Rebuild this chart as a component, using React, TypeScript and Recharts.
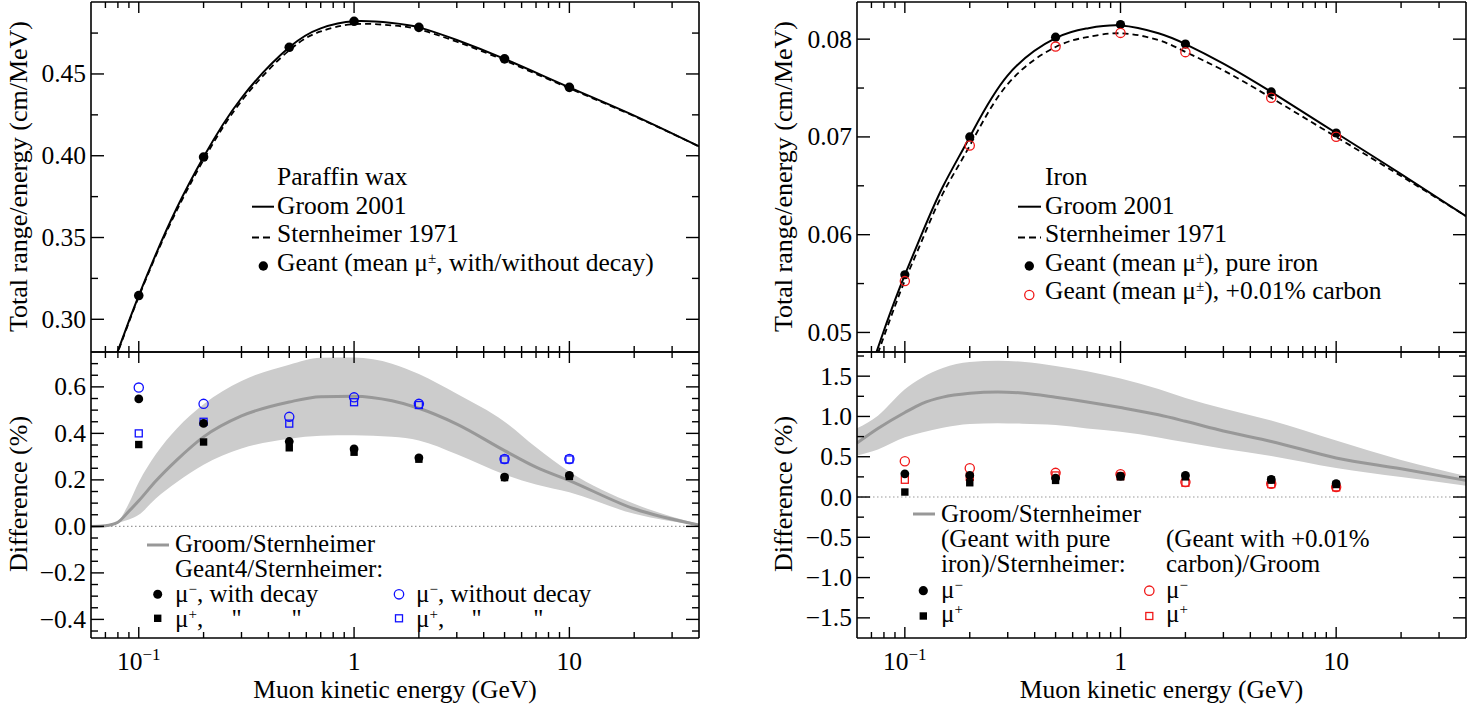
import React from 'react';
import { ComposedChart, Line, Area, Scatter, XAxis, YAxis, ReferenceLine } from 'recharts';

const FONT = '"Liberation Serif", "Times New Roman", serif';
const FS = 25.5;
const LFS = 25;

// ---------- shared x axis ----------
const xDomain: [number, number] = [0.06, 40];
const xTicks = [0.07, 0.08, 0.09, 0.1, 0.2, 0.3, 0.4, 0.5, 0.6, 0.7, 0.8, 0.9, 1, 2, 3, 4, 5, 6, 7, 8, 9, 10, 20, 30];
const xMajor = [0.1, 1, 10];
const xMajorLabels = ['10|−1', '1', '10'];

// ---------- points (Geant energies) ----------
const pointEnergies = [0.1, 0.2, 0.5, 1, 2, 5, 10];

// ---------- Paraffin wax, top ----------
const curveEnergies = [0.07, 0.08, 0.09, 0.1, 0.12, 0.15, 0.2, 0.3, 0.5, 0.7, 1, 1.5, 2, 3, 5, 10, 20, 40];
const paraffinGroom = [0.2592, 0.2807, 0.2989, 0.3145, 0.3397, 0.3679, 0.3992, 0.4353, 0.4663, 0.4779, 0.4822, 0.4812, 0.4785, 0.4708, 0.4592, 0.4418, 0.4245, 0.4057];
const paraffinStern = [0.2585, 0.28, 0.2982, 0.3138, 0.3388, 0.3665, 0.3975, 0.4335, 0.4645, 0.476, 0.4805, 0.4797, 0.4772, 0.4697, 0.4583, 0.4412, 0.4242, 0.4057];
const paraffinGeant = [0.3145, 0.3992, 0.4663, 0.4822, 0.4785, 0.4592, 0.4418];

// ---------- Iron, top ----------
const ironGroom = [0.0465, 0.0502, 0.0533, 0.0559, 0.0601, 0.0649, 0.07, 0.0763, 0.0801, 0.0811, 0.0814, 0.0806, 0.0795, 0.0775, 0.0746, 0.0704, 0.0662, 0.0619];
const ironStern = [0.0459, 0.0496, 0.0527, 0.0553, 0.0594, 0.0642, 0.0691, 0.0754, 0.0792, 0.0802, 0.0806, 0.0799, 0.0787, 0.0768, 0.074, 0.07, 0.066, 0.0619];
const ironGeantPure = [0.0559, 0.07, 0.0802, 0.0815, 0.0795, 0.0746, 0.0704];
const ironGeantCarbon = [0.05525, 0.06912, 0.07924, 0.08064, 0.07867, 0.07401, 0.07002];

// ---------- Paraffin wax, difference ----------
const paraffinDiffE = [0.06, 0.07, 0.075, 0.08, 0.09, 0.1, 0.12, 0.15, 0.2, 0.3, 0.5, 0.7, 1, 1.5, 2, 3, 5, 7, 10, 20, 40];
const paraffinDiffMid = [0.0, 0.003, 0.008, 0.018, 0.065, 0.11, 0.195, 0.285, 0.385, 0.475, 0.535, 0.558, 0.56, 0.54, 0.508, 0.44, 0.326, 0.255, 0.197, 0.076, 0.006];
const paraffinDiffHi = [0.0, 0.003, 0.008, 0.02, 0.1, 0.19, 0.31, 0.42, 0.525, 0.625, 0.695, 0.725, 0.726, 0.7, 0.655, 0.57, 0.45, 0.34, 0.235, 0.097, 0.01];
const paraffinDiffLo = [0.0, 0.002, 0.006, 0.015, 0.03, 0.05, 0.12, 0.19, 0.265, 0.335, 0.377, 0.39, 0.392, 0.385, 0.369, 0.31, 0.223, 0.18, 0.147, 0.054, 0.004];
const parMuMinusDecay = [0.548, 0.443, 0.365, 0.333, 0.295, 0.212, 0.219];
const parMuPlusDecay = [0.352, 0.363, 0.338, 0.319, 0.289, 0.21, 0.215];
const parMuMinusNoDecay = [0.597, 0.527, 0.471, 0.555, 0.527, 0.29, 0.29];
const parMuPlusNoDecay = [0.4, 0.45, 0.442, 0.534, 0.522, 0.288, 0.288];

// ---------- Iron, difference ----------
const ironDiffE = [0.06, 0.075, 0.1, 0.12, 0.15, 0.2, 0.27, 0.35, 0.5, 0.7, 1, 1.5, 2, 3, 5, 10, 20, 40];
const ironDiffMid = [0.67, 0.85, 1.049, 1.16, 1.24, 1.288, 1.305, 1.29, 1.238, 1.18, 1.11, 1.02, 0.94, 0.82, 0.69, 0.485, 0.35, 0.206];
const ironDiffHi = [0.852, 1.01, 1.337, 1.48, 1.6, 1.675, 1.69, 1.68, 1.626, 1.56, 1.47, 1.34, 1.23, 1.1, 0.95, 0.7, 0.46, 0.26];
const ironDiffLo = [0.515, 0.59, 0.741, 0.8, 0.86, 0.905, 0.917, 0.91, 0.893, 0.85, 0.81, 0.74, 0.68, 0.6, 0.51, 0.36, 0.247, 0.14];
const ironPureMuMinus = [0.288, 0.268, 0.235, 0.259, 0.268, 0.218, 0.165];
const ironPureMuPlus = [0.062, 0.177, 0.206, 0.25, 0.25, 0.21, 0.155];
const ironCarbonMuMinus = [0.444, 0.358, 0.3, 0.284, 0.185, 0.165, 0.123];
const ironCarbonMuPlus = [0.214, 0.25, 0.268, 0.26, 0.177, 0.16, 0.12];

// ---------- y axes ----------
const yTopLeftTicks = [0.3, 0.325, 0.35, 0.375, 0.4, 0.425, 0.45, 0.475];
const yTopLeftMajor = [0.3, 0.35, 0.4, 0.45];
const yTopLeftLabels = ['0.30', '0.35', '0.40', '0.45'];
const yBotLeftTicks = [-0.45, -0.4, -0.35, -0.3, -0.25, -0.2, -0.15, -0.1, -0.05, 0, 0.05, 0.1, 0.15, 0.2, 0.25, 0.3, 0.35, 0.4, 0.45, 0.5, 0.55, 0.6, 0.65, 0.7];
const yBotLeftMajor = [-0.4, -0.2, 0, 0.2, 0.4, 0.6];
const yBotLeftLabels = ['−0.4', '−0.2', '0.0', '0.2', '0.4', '0.6'];
const yTopRightTicks = [0.05, 0.055, 0.06, 0.065, 0.07, 0.075, 0.08];
const yTopRightMajor = [0.05, 0.06, 0.07, 0.08];
const yTopRightLabels = ['0.05', '0.06', '0.07', '0.08'];
const yBotRightTicks = [-1.5, -1.25, -1, -0.75, -0.5, -0.25, 0, 0.25, 0.5, 0.75, 1, 1.25, 1.5, 1.75];
const yBotRightMajor = [-1.5, -1, -0.5, 0, 0.5, 1, 1.5];
const yBotRightLabels = ['−1.5', '−1.0', '−0.5', '0.0', '0.5', '1.0', '1.5'];

// ---------- tables built from arrays ----------
const topTable = (a: number[], b: number[]) => curveEnergies.map((e, i) => ({ e, a: a[i], b: b[i] }));
const bandTable = (E: number[], mid: number[], lo: number[], hi: number[]) =>
  E.map((e, i) => ({ e, mid: mid[i], band: [lo[i], hi[i]] }));
const pts = (v: number[]) => pointEnergies.map((e, i) => ({ e, v: v[i] }));

const near = (a: number, b: number) => Math.abs(a - b) < 1e-6;
const idxOf = (arr: number[], v: number) => arr.findIndex((m) => near(m, v));

// ---------- tick renderers ----------
function xTick(side: 'top' | 'bottom', labels: boolean) {
  return (props: any) => {
    const { x, y, payload } = props;
    const v = Number(payload.value);
    const mi = idxOf(xMajor, v);
    const len = mi >= 0 ? 11 : 6;
    const d = side === 'bottom' ? -1 : 1;
    let lab: any = null;
    if (labels && side === 'bottom' && mi >= 0) {
      const [base, exp] = xMajorLabels[mi].split('|');
      lab = (
        <text x={x} y={y + 31.5} textAnchor="middle" fontFamily={FONT} fontSize={FS} fill="#000">
          {base}
          {exp ? (
            <tspan dy={-10} fontSize={17}>
              {exp}
            </tspan>
          ) : null}
        </text>
      );
    }
    return (
      <g>
        <line x1={x} x2={x} y1={y} y2={y + d * len} stroke="#000" strokeWidth={1.4} />
        {lab}
      </g>
    );
  };
}

function yTick(side: 'left' | 'right', majors: number[], labels: string[] | null) {
  return (props: any) => {
    const { x, y, payload } = props;
    const v = Number(payload.value);
    const mi = idxOf(majors, v);
    const len = mi >= 0 ? 13 : 7;
    const d = side === 'left' ? 1 : -1;
    return (
      <g>
        <line x1={x} x2={x + d * len} y1={y} y2={y} stroke="#000" strokeWidth={1.4} />
        {labels && side === 'left' && mi >= 0 ? (
          <text x={x - 5} y={y + 8.5} textAnchor="end" fontFamily={FONT} fontSize={FS} fill="#000">
            {labels[mi]}
          </text>
        ) : null}
      </g>
    );
  };
}

// ---------- marker shapes ----------
const filledCircle = (r: number) => (p: any) => <circle cx={p.cx} cy={p.cy} r={r} fill="#000" />;
const filledSquare = (s: number) => (p: any) => <rect x={p.cx - s / 2} y={p.cy - s / 2} width={s} height={s} fill="#000" />;
const openCircle = (r: number, c: string) => (p: any) => (
  <circle cx={p.cx} cy={p.cy} r={r} fill="none" stroke={c} strokeWidth={1.3} />
);
const openSquare = (s: number, c: string) => (p: any) => (
  <rect x={p.cx - s / 2} y={p.cy - s / 2} width={s} height={s} fill="none" stroke={c} strokeWidth={1.3} />
);

const BLUE = '#1010ff';
const RED = '#f01818';
const GRAY_LINE = '#989898';
const GRAY_BAND = '#cccccc';

type PanelProps = {
  left: number;
  top: number;
  width: number;
  height: number;
  margin: { top: number; right: number; bottom: number; left: number };
  yDomain: [number, number];
  yTicks: number[];
  yMajor: number[];
  yLabels: string[];
  xLabels: boolean;
  data: any[];
  children: any;
};

function Panel(p: PanelProps) {
  const axisLine = { stroke: '#000', strokeWidth: 1.6 };
  return (
    <div style={{ position: 'absolute', left: p.left, top: p.top, width: p.width, height: p.height }}>
      <ComposedChart width={p.width} height={p.height} margin={p.margin} data={p.data}>
        <XAxis
          xAxisId={0}
          dataKey="e"
          type="number"
          scale="log"
          domain={xDomain}
          allowDataOverflow
          ticks={xTicks}
          interval={0}
          height={1}
          tickSize={0}
          tickMargin={0}
          tickLine={false}
          axisLine={axisLine}
          tick={xTick('bottom', p.xLabels)}
          orientation="bottom"
        />
        <XAxis
          xAxisId="t"
          dataKey="e"
          type="number"
          scale="log"
          domain={xDomain}
          allowDataOverflow
          ticks={xTicks}
          interval={0}
          height={1}
          tickSize={0}
          tickMargin={0}
          tickLine={false}
          axisLine={axisLine}
          tick={xTick('top', false)}
          orientation="top"
        />
        <YAxis
          yAxisId={0}
          type="number"
          domain={p.yDomain}
          allowDataOverflow
          ticks={p.yTicks}
          interval={0}
          width={1}
          tickSize={0}
          tickMargin={0}
          tickLine={false}
          axisLine={axisLine}
          tick={yTick('left', p.yMajor, p.yLabels)}
          orientation="left"
        />
        <YAxis
          yAxisId="r"
          type="number"
          domain={p.yDomain}
          allowDataOverflow
          ticks={p.yTicks}
          interval={0}
          width={1}
          tickSize={0}
          tickMargin={0}
          tickLine={false}
          axisLine={axisLine}
          tick={yTick('right', p.yMajor, null)}
          orientation="right"
        />
        {p.children}
      </ComposedChart>
    </div>
  );
}

const T = (props: any) => <text fontFamily={FONT} fontSize={FS} fill="#000" {...props} />;
const SupText = ({ x, y, pre, sup, post, fs }: any) => (
  <text x={x} y={y} fontFamily={FONT} fontSize={fs || FS} fill="#000">
    {pre}
    <tspan dy={-8} fontSize={15}>
      {sup}
    </tspan>
    {post ? <tspan dy={8}>{post}</tspan> : null}
  </text>
);

function Overlay() {
  return (
    <svg width={1483} height={706} style={{ position: 'absolute', left: 0, top: 0, pointerEvents: 'none' }}>
      {/* axis titles */}
      <T x={0} y={0} textAnchor="middle" fontSize={26} transform="translate(27,176.5) rotate(-90)">
        Total range/energy (cm/MeV)
      </T>
      <T x={0} y={0} textAnchor="middle" fontSize={26} transform="translate(792,176.5) rotate(-90)">
        Total range/energy (cm/MeV)
      </T>
      <T x={0} y={0} textAnchor="middle" fontSize={26} transform="translate(27,494) rotate(-90)">
        Difference (%)
      </T>
      <T x={0} y={0} textAnchor="middle" fontSize={26} transform="translate(792,494) rotate(-90)">
        Difference (%)
      </T>
      <T x={395} y={698} textAnchor="middle" fontSize={25.5}>
        Muon kinetic energy (GeV)
      </T>
      <T x={1161.5} y={698} textAnchor="middle" fontSize={25.5}>
        Muon kinetic energy (GeV)
      </T>

      {/* top-left legend */}
      <T x={277} y={185}>Paraffin wax</T>
      <line x1={252} x2={274} y1={206.7} y2={206.7} stroke="#000" strokeWidth={2} />
      <T x={277} y={213.5}>Groom 2001</T>
      <line x1={252} x2={274} y1={237.5} y2={237.5} stroke="#000" strokeWidth={2} strokeDasharray="7 4" />
      <T x={277} y={242}>Sternheimer 1971</T>
      <circle cx={263.3} cy={266} r={4.7} fill="#000" />
      <SupText x={277} y={270.5} pre="Geant (mean μ" sup="±" post=", with/without decay)" />

      {/* top-right legend */}
      <T x={1045} y={185}>Iron</T>
      <line x1={1018} x2={1041} y1={206.7} y2={206.7} stroke="#000" strokeWidth={2} />
      <T x={1045} y={213.5}>Groom 2001</T>
      <line x1={1018} x2={1041} y1={237.5} y2={237.5} stroke="#000" strokeWidth={2} strokeDasharray="7 4" />
      <T x={1045} y={242}>Sternheimer 1971</T>
      <circle cx={1029.3} cy={266} r={4.7} fill="#000" />
      <SupText x={1045} y={270.5} pre="Geant (mean μ" sup="±" post="), pure iron" />
      <circle cx={1029.3} cy={295} r={4.6} fill="none" stroke={RED} strokeWidth={1.3} />
      <SupText x={1045} y={299} pre="Geant (mean μ" sup="±" post="), +0.01% carbon" />

      {/* bottom-left legend */}
      <line x1={147} x2={169} y1={545} y2={545} stroke={GRAY_LINE} strokeWidth={3} />
      <T x={175} y={552} fontSize={LFS}>Groom/Sternheimer</T>
      <T x={175} y={577} fontSize={LFS}>Geant4/Sternheimer:</T>
      <circle cx={157.7} cy={594.3} r={4.5} fill="#000" />
      <SupText x={175} y={602} fs={LFS} pre="μ" sup="−" post=", with decay" />
      <rect x={154} y={614.6} width={7.4} height={7.4} fill="#000" />
      <SupText x={175} y={626.5} fs={LFS} pre="μ" sup="+" post="," />
      <T x={236.7} y={626.5} fontSize={LFS} textAnchor="middle">"</T>
      <T x={296.7} y={626.5} fontSize={LFS} textAnchor="middle">"</T>
      <circle cx={399} cy={594.3} r={4.7} fill="none" stroke={BLUE} strokeWidth={1.3} />
      <SupText x={416} y={602} fs={LFS} pre="μ" sup="−" post=", without decay" />
      <rect x={395.5} y={614.8} width={7} height={7} fill="none" stroke={BLUE} strokeWidth={1.3} />
      <SupText x={416} y={626.5} fs={LFS} pre="μ" sup="+" post="," />
      <T x={476.7} y={626.5} fontSize={LFS} textAnchor="middle">"</T>
      <T x={538.3} y={626.5} fontSize={LFS} textAnchor="middle">"</T>

      {/* bottom-right legend */}
      <line x1={913} x2={935} y1={514} y2={514} stroke={GRAY_LINE} strokeWidth={3} />
      <T x={941} y={522} fontSize={LFS}>Groom/Sternheimer</T>
      <T x={941} y={547} fontSize={LFS}>(Geant with pure</T>
      <T x={941} y={572} fontSize={LFS}>iron)/Sternheimer:</T>
      <circle cx={923.3} cy={590.7} r={4.6} fill="#000" />
      <SupText x={941} y={597.5} fs={LFS} pre="μ" sup="−" />
      <rect x={919.6} y={612.3} width={7.4} height={7.4} fill="#000" />
      <SupText x={941} y={622} fs={LFS} pre="μ" sup="+" />
      <T x={1166} y={547} fontSize={LFS}>(Geant with +0.01%</T>
      <T x={1166} y={572} fontSize={LFS}>carbon)/Groom</T>
      <circle cx={1149.3} cy={590.7} r={4.7} fill="none" stroke={RED} strokeWidth={1.3} />
      <SupText x={1166} y={597.5} fs={LFS} pre="μ" sup="−" />
      <rect x={1145.8} y={612.5} width={7} height={7} fill="none" stroke={RED} strokeWidth={1.3} />
      <SupText x={1166} y={622} fs={LFS} pre="μ" sup="+" />
    </svg>
  );
}

export default function App() {
  const topLeftData = topTable(paraffinGroom, paraffinStern);
  const topRightData = topTable(ironGroom, ironStern);
  const botLeftData = bandTable(paraffinDiffE, paraffinDiffMid, paraffinDiffLo, paraffinDiffHi);
  const botRightData = bandTable(ironDiffE, ironDiffMid, ironDiffLo, ironDiffHi);

  return (
    <div style={{ position: 'absolute', left: 0, top: 0, width: 1483, height: 706, background: '#fff', overflow: 'hidden' }}>
      {/* Paraffin, top */}
      <Panel
        left={0}
        top={0}
        width={720}
        height={356}
        margin={{ top: 1, right: 20, bottom: 3, left: 90 }}
        yDomain={[0.28, 0.494]}
        yTicks={yTopLeftTicks}
        yMajor={yTopLeftMajor}
        yLabels={yTopLeftLabels}
        xLabels={false}
        data={topLeftData}
      >
        <Line dataKey="b" type="natural" stroke="#000" strokeWidth={1.8} strokeDasharray="6 4" dot={false} isAnimationActive={false} />
        <Line dataKey="a" type="natural" stroke="#000" strokeWidth={2} dot={false} isAnimationActive={false} />
        <Scatter data={pts(paraffinGeant)} dataKey="v" shape={filledCircle(4.8)} isAnimationActive={false} />
      </Panel>

      {/* Paraffin, difference */}
      <Panel
        left={0}
        top={346}
        width={720}
        height={360}
        margin={{ top: 5, right: 20, bottom: 67, left: 90 }}
        yDomain={[-0.48, 0.75]}
        yTicks={yBotLeftTicks}
        yMajor={yBotLeftMajor}
        yLabels={yBotLeftLabels}
        xLabels={true}
        data={botLeftData}
      >
        <Area dataKey="band" type="monotone" stroke="none" fill={GRAY_BAND} fillOpacity={1} isAnimationActive={false} />
        <ReferenceLine y={0} stroke="#999" strokeWidth={1.2} strokeDasharray="1.5 2.5" />
        <Line dataKey="mid" type="monotone" stroke={GRAY_LINE} strokeWidth={3} dot={false} isAnimationActive={false} />
        <Scatter data={pts(parMuMinusNoDecay)} dataKey="v" shape={openCircle(4.6, BLUE)} isAnimationActive={false} />
        <Scatter data={pts(parMuPlusNoDecay)} dataKey="v" shape={openSquare(7, BLUE)} isAnimationActive={false} />
        <Scatter data={pts(parMuMinusDecay)} dataKey="v" shape={filledCircle(4.4)} isAnimationActive={false} />
        <Scatter data={pts(parMuPlusDecay)} dataKey="v" shape={filledSquare(7.4)} isAnimationActive={false} />
      </Panel>

      {/* Iron, top */}
      <Panel
        left={760}
        top={0}
        width={720}
        height={356}
        margin={{ top: 1, right: 13, bottom: 3, left: 96 }}
        yDomain={[0.048, 0.0838]}
        yTicks={yTopRightTicks}
        yMajor={yTopRightMajor}
        yLabels={yTopRightLabels}
        xLabels={false}
        data={topRightData}
      >
        <Line dataKey="b" type="natural" stroke="#000" strokeWidth={1.8} strokeDasharray="6 4" dot={false} isAnimationActive={false} />
        <Line dataKey="a" type="natural" stroke="#000" strokeWidth={2} dot={false} isAnimationActive={false} />
        <Scatter data={pts(ironGeantPure)} dataKey="v" shape={filledCircle(4.6)} isAnimationActive={false} />
        <Scatter data={pts(ironGeantCarbon)} dataKey="v" shape={openCircle(4.6, RED)} isAnimationActive={false} />
      </Panel>

      {/* Iron, difference */}
      <Panel
        left={760}
        top={346}
        width={720}
        height={360}
        margin={{ top: 5, right: 13, bottom: 67, left: 96 }}
        yDomain={[-1.75, 1.8]}
        yTicks={yBotRightTicks}
        yMajor={yBotRightMajor}
        yLabels={yBotRightLabels}
        xLabels={true}
        data={botRightData}
      >
        <Area dataKey="band" type="monotone" stroke="none" fill={GRAY_BAND} fillOpacity={1} isAnimationActive={false} />
        <ReferenceLine y={0} stroke="#999" strokeWidth={1.2} strokeDasharray="1.5 2.5" />
        <Line dataKey="mid" type="monotone" stroke={GRAY_LINE} strokeWidth={3} dot={false} isAnimationActive={false} />
        <Scatter data={pts(ironCarbonMuMinus)} dataKey="v" shape={openCircle(4.6, RED)} isAnimationActive={false} />
        <Scatter data={pts(ironCarbonMuPlus)} dataKey="v" shape={openSquare(7, RED)} isAnimationActive={false} />
        <Scatter data={pts(ironPureMuMinus)} dataKey="v" shape={filledCircle(4.4)} isAnimationActive={false} />
        <Scatter data={pts(ironPureMuPlus)} dataKey="v" shape={filledSquare(7.4)} isAnimationActive={false} />
      </Panel>

      <Overlay />
    </div>
  );
}
